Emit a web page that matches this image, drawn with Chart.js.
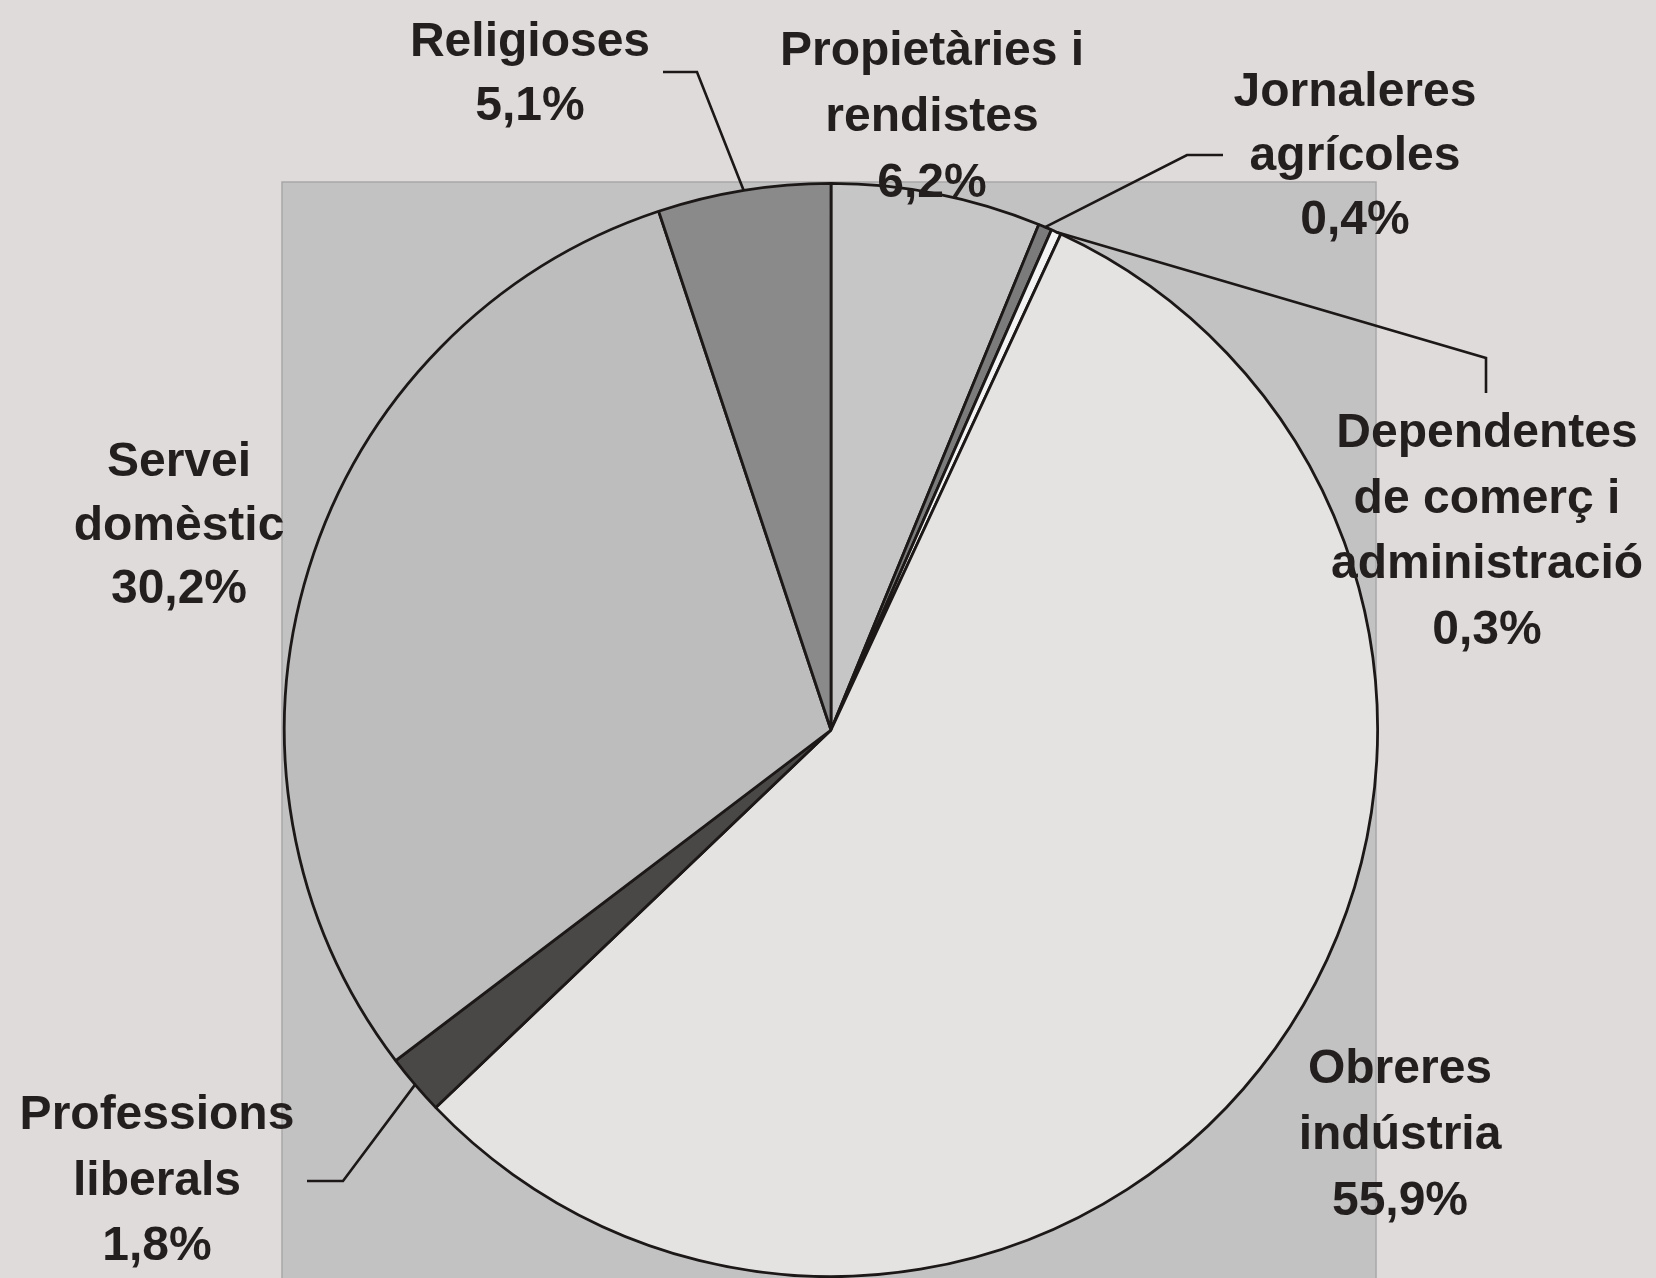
<!DOCTYPE html>
<html>
<head>
<meta charset="utf-8">
<script src="https://cdn.jsdelivr.net/npm/chart.js@4.4.1/dist/chart.umd.min.js"></script>
<style>
  html, body { margin: 0; padding: 0; background: #dedbda; }
  #wrap { position: relative; width: 1656px; height: 1278px; }
</style>
</head>
<body>
<div id="wrap"><canvas id="c" width="1656" height="1278"></canvas></div>
<script>
// ---- data ----
const categories = [
  ["Propietàries i", "rendistes"],
  ["Jornaleres", "agrícoles"],
  ["Dependentes", "de comerç i", "administració"],
  ["Obreres", "indústria"],
  ["Professions", "liberals"],
  ["Servei", "domèstic"],
  ["Religioses"]
];
const values = [6.2, 0.4, 0.3, 55.9, 1.8, 30.2, 5.1];
const sliceColors = ["#c6c6c6", "#7b7b7b", "#f3f3f3", "#e5e3e2", "#4a4747", "#bdbdbd", "#8a8a8a"];

// ---- label layout (centre x, first baseline, line step) ----
const labelLayout = [
  { x: 932, y: 65, step: 66 },
  { x: 1355, y: 106, step: 64 },
  { x: 1487, y: 447, step: 65.5 },
  { x: 1400, y: 1083, step: 66 },
  { x: 157, y: 1129, step: 65.5 },
  { x: 179, y: 476, step: 63.5 },
  { x: 530, y: 56, step: 64 }
];
// leader lines: elbow then end (null = no leader)
const leaders = [
  null,
  [[1187, 155], [1223, 155]],
  [[1486, 358], [1486, 393]],
  null,
  [[343, 1181], [307, 1181]],
  null,
  [[697, 72], [663, 72]]
];

const fmt = v => v.toFixed(1).replace('.', ',') + '%';

const backdrop = {
  id: 'backdrop',
  beforeDraw(chart) {
    const ctx = chart.ctx;
    ctx.save();
    ctx.fillStyle = '#dedbda';
    ctx.fillRect(0, 0, chart.width, chart.height);
    ctx.fillStyle = '#c3c2c2';
    ctx.fillRect(282, 182, 1094, 1100);
    ctx.strokeStyle = '#a9a8a8';
    ctx.lineWidth = 1.5;
    ctx.strokeRect(282, 182, 1094, 1100);
    ctx.restore();
  }
};

const labels = {
  id: 'labels',
  afterDraw(chart) {
    const ctx = chart.ctx;
    const arcs = chart.getDatasetMeta(0).data;
    ctx.save();
    // leader lines
    ctx.strokeStyle = '#1c1818';
    ctx.lineWidth = 2.6;
    arcs.forEach((arc, i) => {
      const L = leaders[i];
      if (!L) return;
      const mid = (arc.startAngle + arc.endAngle) / 2;
      const px = arc.x + Math.cos(mid) * arc.outerRadius;
      const py = arc.y + Math.sin(mid) * arc.outerRadius;
      ctx.beginPath();
      ctx.moveTo(px, py);
      L.forEach(p => ctx.lineTo(p[0], p[1]));
      ctx.stroke();
    });
    // texts
    ctx.fillStyle = '#241f1f';
    ctx.font = 'bold 48px "Liberation Sans", Arial, sans-serif';
    ctx.textAlign = 'center';
    ctx.textBaseline = 'alphabetic';
    categories.forEach((lines, i) => {
      const lay = labelLayout[i];
      const all = lines.concat([fmt(values[i])]);
      all.forEach((t, k) => ctx.fillText(t, lay.x, lay.y + k * lay.step));
    });
    ctx.restore();
  }
};

new Chart(document.getElementById('c'), {
  type: 'pie',
  data: {
    labels: categories.map(l => l.join(' ')),
    datasets: [{
      data: values,
      backgroundColor: sliceColors,
      borderColor: '#1c1818',
      borderWidth: 2.8,
      borderAlign: 'center'
    }]
  },
  options: {
    responsive: false,
    animation: false,
    events: [],
    layout: { padding: { left: 283, right: 277, top: 182, bottom: 0 } },
    plugins: { legend: { display: false }, tooltip: { enabled: false } }
  },
  plugins: [backdrop, labels]
});
</script>
</body>
</html>
